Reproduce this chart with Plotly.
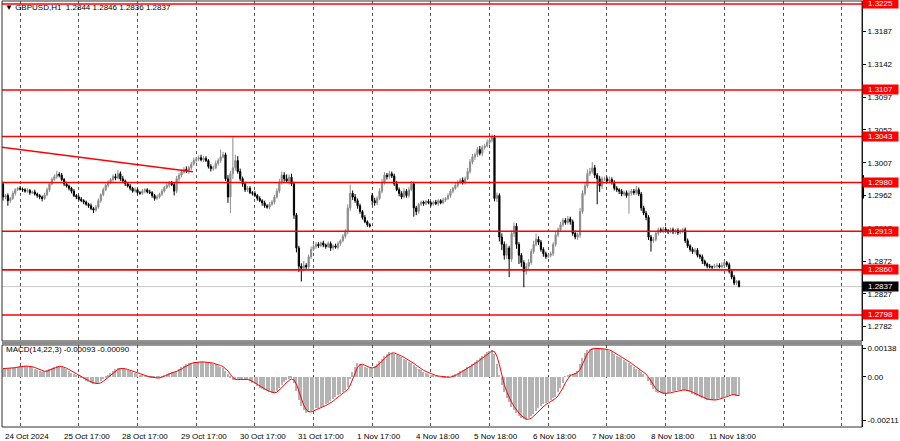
import plotly.graph_objects as go
import pandas as pd

# ---------------- data (prices in pips above 1.0000) ----------------
close_pips = [
    2960,2962,2955,2958,2965,2970,2972,2971,2970,2968,2969,2966,2967,2964,2962,2960,2958,2963,2970,2978,2984,2988,2991,2990,
    2984,2978,2975,2972,2968,2962,2960,2957,2955,2953,2950,2948,2944,2942,2946,2955,2963,2970,2976,2980,2984,2988,2986,2992,
    2985,2982,2978,2975,2972,2968,2970,2966,2965,2968,2970,2967,2966,2962,2958,2960,2964,2968,2973,2976,2980,2977,2968,2985,
    2990,2994,2998,2996,3000,3005,3010,3012,3014,3011,3013,3010,3002,2999,3000,3006,3010,3015,3018,2985,2960,2992,3000,3010,
    2995,2985,2978,2970,2972,2966,2965,2962,2958,2955,2952,2948,2946,2950,2953,2960,2968,2980,2990,2985,2982,2987,2978,2935,
    2890,2865,2862,2866,2864,2878,2888,2892,2895,2893,2897,2894,2892,2896,2890,2893,2891,2896,2900,2906,2912,2945,2965,2960,
    2955,2948,2940,2932,2926,2922,2920,2955,2952,2958,2968,2980,2990,2988,2992,2989,2978,2970,2965,2960,2968,2962,2970,2978,
    2945,2940,2950,2953,2951,2954,2952,2950,2953,2951,2955,2952,2956,2958,2962,2968,2972,2976,2980,2983,2980,2985,2995,3008,
    3015,3018,3025,3020,3028,3030,3035,3038,3042,2958,2962,2905,2895,2880,2890,2875,2910,2920,2895,2880,2870,2858,2865,2870,
    2885,2895,2902,2898,2888,2882,2878,2880,2882,2895,2908,2915,2922,2928,2925,2930,2926,2910,2905,2908,2940,2965,2975,2992,
    2995,3000,2990,2985,2975,2985,2985,2982,2984,2980,2972,2970,2968,2964,2966,2962,2965,2968,2966,2970,2964,2945,2938,2932,
    2905,2900,2902,2910,2915,2913,2916,2914,2912,2915,2912,2914,2911,2913,2915,2900,2893,2888,2885,2887,2880,2878,2872,2868,
    2865,2864,2864,2865,2866,2864,2866,2870,2867,2858,2850,2842,2844,2837,
]
first_open_pips = 2978
gap_open_pips = {151: 2962}

upper_wick_pips = [
    3,2,3,2,3,2,2,3,2,2,3,2,2,3,2,2,2,3,3,2,3,3,5,3,
    3,2,3,2,2,3,2,2,3,2,2,2,3,2,3,3,2,3,2,3,2,3,4,5,
    3,4,2,2,3,2,3,2,2,3,2,2,3,2,2,3,2,3,2,3,2,2,3,4,
    3,4,3,4,3,3,4,3,3,4,3,3,2,3,3,4,3,10,4,3,5,4,42,8,
    6,4,3,3,3,3,2,3,2,3,2,3,2,3,3,3,4,5,5,4,6,4,5,3,
    3,3,4,6,3,3,4,3,3,3,2,3,2,3,3,2,3,3,2,3,4,5,12,4,
    4,3,3,2,3,2,2,3,4,3,4,5,4,3,4,3,3,4,3,3,4,3,4,4,
    3,3,2,2,2,2,3,2,2,3,2,2,3,2,3,3,2,4,3,3,4,3,5,4,
    4,3,4,5,3,3,4,3,4,3,4,3,5,4,6,3,4,5,4,3,3,3,4,5,
    4,5,8,4,3,3,3,2,3,3,4,3,4,3,3,4,3,3,4,3,5,4,5,6,
    5,8,4,3,4,3,3,3,4,3,3,3,2,3,3,3,4,3,3,5,3,3,3,3,
    3,3,3,3,3,3,3,3,2,3,3,2,3,3,3,3,3,2,3,3,3,2,3,2,
    2,3,2,3,3,3,4,3,2,3,2,3,2,2,
]
lower_wick_pips = [
    5,3,7,3,2,3,2,2,3,2,2,3,2,2,3,3,4,2,2,3,2,2,3,3,
    2,3,2,3,3,2,3,2,2,3,2,3,2,4,2,2,3,2,2,3,2,3,3,2,
    3,2,3,2,3,2,2,3,2,2,3,2,2,3,3,2,2,3,2,2,3,2,6,3,
    4,3,2,3,4,3,2,3,3,2,3,2,3,4,3,2,3,3,2,3,8,22,7,4,
    3,3,4,3,3,2,3,2,3,2,4,3,2,3,2,3,2,3,3,4,3,5,3,5,
    6,8,18,4,3,3,3,2,3,3,2,3,3,2,4,3,2,3,3,2,3,3,4,4,
    3,4,3,3,2,3,2,6,4,3,2,3,3,4,3,3,3,2,4,3,2,3,3,2,
    12,5,3,2,3,2,2,3,2,2,3,2,2,3,2,3,3,2,3,2,3,3,2,3,
    3,4,3,3,4,3,2,3,3,4,5,6,8,6,5,25,4,5,6,12,6,22,5,4,
    3,3,3,4,3,4,3,2,3,3,3,3,2,3,3,3,4,3,3,4,4,3,3,3,
    3,3,4,35,8,4,3,3,3,3,3,3,4,3,3,3,25,3,3,3,3,4,3,4,
    4,15,3,3,3,2,3,3,3,2,3,3,3,2,3,3,3,3,3,3,3,3,4,3,
    3,2,3,2,3,2,2,3,3,3,3,3,3,1,
]

# MACD(14,22,3) main line (histogram), in 1e-5
macd_main_e5 = [
    40,41,41,42,44,47,50,52,52,52,51,50,46,40,34,28,25,27,32,38,44,49,52,52,
    48,42,36,29,21,13,6,0,-6,-12,-18,-24,-29,-32,-34,-30,-22,-12,-2,8,18,28,37,43,
    42,40,36,32,27,22,18,14,9,6,4,1,-2,-4,-6,-6,-3,3,9,15,20,24,26,30,
    38,46,54,60,65,69,71,72,72,73,72,71,68,66,64,60,55,49,45,30,12,-5,-15,-14,
    -12,-10,-11,-12,-14,-20,-28,-36,-44,-52,-58,-64,-70,-75,-79,-76,-66,-52,-38,-26,-16,-8,-6,-30,
    -70,-110,-140,-160,-172,-170,-165,-158,-152,-148,-144,-138,-132,-125,-118,-108,-95,-88,-80,-72,-62,-47,-10,25,
    50,65,62,56,50,45,41,44,52,62,75,88,100,110,118,117,112,106,100,94,88,81,74,66,
    56,46,38,32,26,20,15,10,7,4,2,0,-1,-2,-1,0,6,13,20,27,33,40,48,55,
    62,72,80,90,100,110,120,126,130,110,60,5,-40,-75,-100,-122,-144,-160,-175,-188,-198,-205,-208,-200,
    -190,-178,-165,-152,-140,-132,-127,-120,-112,-104,-95,-75,-55,-30,1,8,12,15,17,30,60,90,115,130,
    136,138,138,137,136,135,133,130,126,118,110,103,97,90,82,74,65,57,48,40,32,25,15,0,
    -20,-40,-58,-71,-76,-79,-80,-79,-77,-74,-70,-67,-65,-63,-63,-64,-68,-74,-80,-86,-92,-98,-103,-107,
    -110,-111,-112,-111,-108,-104,-100,-95,-90,-86,-85,-86,-92,-93,
]

levels = [1.3225, 1.3107, 1.3043, 1.2980, 1.2913, 1.2860, 1.2798]
current_price = 1.2837
scale_marker = [1.2958, 1.2990]
trend_x = [-0.5, 77.7]
trend_y = [1.30282, 1.29947]
price_ticks = [1.3187, 1.3142, 1.3097, 1.3052, 1.3007, 1.2962, 1.2917, 1.2872, 1.2827, 1.2782]
macd_ticks = [0.00138, 0.0, -0.00211]
macd_tick_text = ["0.00138", "0.00", "-0.00211"]
time_labels = ["24 Oct 2024", "25 Oct 17:00", "28 Oct 17:00", "29 Oct 17:00", "30 Oct 17:00",
               "31 Oct 17:00", "1 Nov 17:00", "4 Nov 18:00", "5 Nov 18:00", "6 Nov 18:00",
               "7 Nov 18:00", "8 Nov 18:00", "11 Nov 18:00"]
time_label_bars = [0, 24, 48, 72, 96, 120, 144, 168, 192, 216, 240, 264, 288]
grid_bars = [7, 31, 55, 79, 103, 127, 151, 175, 199, 223, 247, 271, 295, 319, 343]

# ---------------- build series ----------------
n = len(close_pips)
idx = list(range(n))
close = [1 + c / 1e4 for c in close_pips]
open_p = []
for i in range(n):
    if i == 0:
        o = first_open_pips
    elif i in gap_open_pips:
        o = gap_open_pips[i]
    else:
        o = close_pips[i - 1]
    open_p.append(o)
high = [1 + (max(open_p[i], close_pips[i]) + upper_wick_pips[i]) / 1e4 for i in range(n)]
low = [1 + (min(open_p[i], close_pips[i]) - lower_wick_pips[i]) / 1e4 for i in range(n)]
opn = [1 + o / 1e4 for o in open_p]

macd_main = pd.Series(macd_main_e5, dtype=float) / 1e5
macd_signal = macd_main.rolling(3, min_periods=1).mean()

FONT = "Liberation Sans"
FS = 8
fig = go.Figure()

fig.add_trace(go.Scatter(x=trend_x, y=trend_y, mode="lines",
                         line=dict(color="#ff0000", width=1.5), xaxis="x", yaxis="y",
                         hoverinfo="skip"))
fig.add_trace(go.Candlestick(
    x=idx, open=opn, high=high, low=low, close=close,
    increasing=dict(line=dict(color="#8c8c8c", width=1), fillcolor="#8c8c8c"),
    decreasing=dict(line=dict(color="#000000", width=1), fillcolor="#000000"),
    whiskerwidth=0, xaxis="x", yaxis="y"))

fig.add_trace(go.Bar(x=idx, y=macd_main, marker=dict(color="#b4b4b4", line=dict(width=0)),
                     width=0.55, xaxis="x2", yaxis="y2"))
fig.add_trace(go.Scatter(x=idx, y=macd_signal, mode="lines",
                         line=dict(color="#ff0000", width=1), xaxis="x2", yaxis="y2"))

shapes = []
shapes.append(dict(type="line", xref="x domain", yref="y", x0=0, x1=1,
                   y0=current_price, y1=current_price,
                   line=dict(color="#c8c8c8", width=1), layer="below"))
for lv in levels:
    shapes.append(dict(type="line", xref="x domain", yref="y", x0=0, x1=1, y0=lv, y1=lv,
                       line=dict(color="#ff0000", width=1.6)))
for ya in ["y", "y2"]:
    shapes.append(dict(type="rect", xref="x domain", yref=f"{ya} domain", x0=0, x1=1, y0=0, y1=1,
                       line=dict(color="#303030", width=1)))
shapes.append(dict(type="line", xref="paper", yref="paper", x0=0, x1=1, y0=0.197, y1=0.197,
                   line=dict(color="#8a8a8a", width=3)))
shapes.append(dict(type="line", xref="paper", yref="y", x0=1.0012, x1=1.0012,
                   y0=scale_marker[0], y1=scale_marker[1], line=dict(color="#000", width=2)))

annotations = []
for lv in levels:
    annotations.append(dict(xref="paper", yref="y", x=1.0, y=lv, xanchor="left", yanchor="middle",
                            text=f"{lv:.4f}", showarrow=False, bgcolor="#ff0000",
                            font=dict(color="white", size=FS, family=FONT),
                            width=35, height=9, borderpad=0, align="center"))
annotations.append(dict(xref="paper", yref="y", x=1.0, y=current_price, xanchor="left", yanchor="middle",
                        text=f"{current_price:.4f}", showarrow=False, bgcolor="#000000",
                        font=dict(color="white", size=FS, family=FONT),
                        width=35, height=9, borderpad=0, align="center"))
for b, t in zip(time_label_bars, time_labels):
    annotations.append(dict(xref="x2", yref="paper", x=b, y=-0.023, xanchor="left", yanchor="middle",
                            text=t, showarrow=False, font=dict(color="#000", size=FS, family=FONT)))
hdr = (f"▼ GBPUSD,H1  {opn[-1]:.4f} {high[-1]:.4f} {low[-1]:.4f} {close[-1]:.4f}")
annotations.append(dict(xref="paper", yref="paper", x=0.001, y=0.984, xanchor="left", yanchor="middle",
                        text=hdr, showarrow=False, font=dict(color="#000", size=FS, family=FONT)))
macd_txt = f"MACD(14,22,3) {macd_main.iloc[-1]:.5f} {macd_signal.iloc[-1]:.5f}"
annotations.append(dict(xref="paper", yref="paper", x=0.002, y=0.183, xanchor="left", yanchor="middle",
                        text=macd_txt, showarrow=False, font=dict(color="#000", size=FS, family=FONT)))

xr = [-0.41, 351.3]
common_x = dict(range=xr, tickvals=grid_bars, showticklabels=False, showgrid=True,
                gridcolor="#555555", griddash="dot", gridwidth=1, zeroline=False,
                showline=False, ticks="", fixedrange=True)

fig.update_layout(
    width=900, height=441,
    margin=dict(l=2, r=38, t=1, b=14),
    paper_bgcolor="white", plot_bgcolor="white",
    showlegend=False,
    font=dict(family=FONT, size=FS, color="#000"),
    xaxis=dict(domain=[0, 1], anchor="y", rangeslider=dict(visible=False), **common_x),
    xaxis2=dict(domain=[0, 1], anchor="y2", matches="x", **common_x),
    yaxis=dict(domain=[0.2019, 1], range=[1.27623, 1.32291], side="right",
               tickvals=price_ticks, tickformat=".4f", showgrid=False, zeroline=False,
               ticks="outside", ticklen=3, tickcolor="#000", showline=True, linecolor="#000",
               tickfont=dict(size=FS, family=FONT, color="#000")),
    yaxis2=dict(domain=[0, 0.1925], range=[-0.002415, 0.001538], side="right",
                tickvals=macd_ticks, ticktext=macd_tick_text, showgrid=False, zeroline=False,
                ticks="outside", ticklen=3, tickcolor="#000", showline=True, linecolor="#000",
                tickfont=dict(size=FS, family=FONT, color="#000")),
    shapes=shapes, annotations=annotations, bargap=0,
)

fig.write_html("out.html", config={"displayModeBar": False},
               post_script="document.body.style.margin='0';document.body.style.overflow='hidden';")
